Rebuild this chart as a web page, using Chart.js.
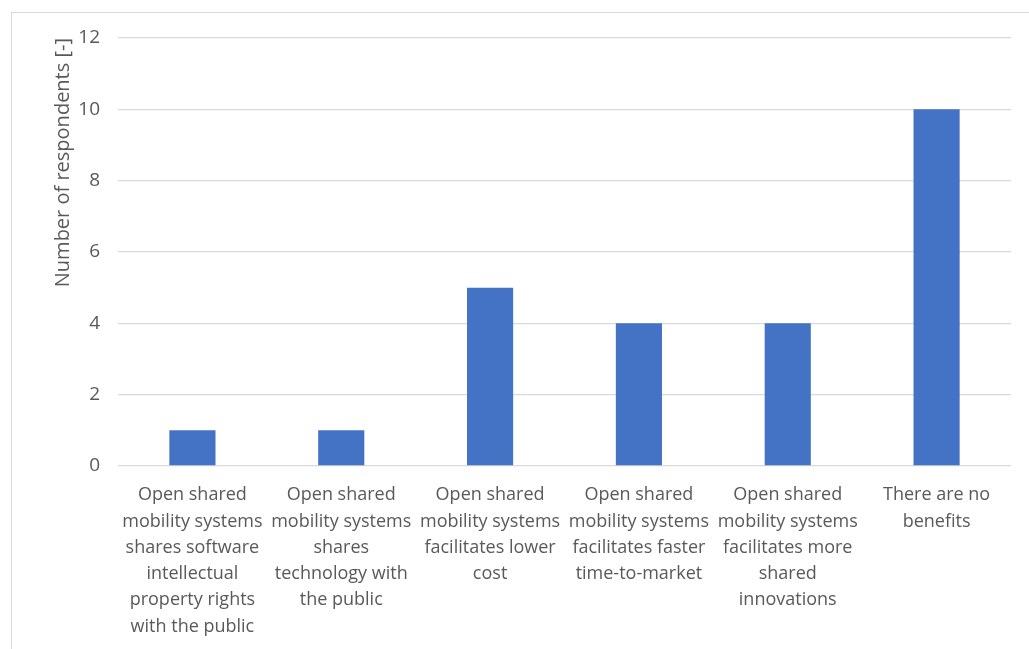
<!DOCTYPE html>
<html lang="en">
<head>
  <meta charset="UTF-8">
  <title>Benefits of open shared mobility systems</title>
  <script src="https://cdn.jsdelivr.net/npm/chart.js"></script>
  <style>
    html, body {
      margin: 0;
      padding: 0;
      background: #fff;
      overflow: hidden;
    }
    #frame {
      position: absolute;
      left: 11px;
      top: 12px;
      width: 1040px;
      height: 660px;
      border: 1px solid #d9d9d9;
      box-sizing: border-box;
    }
    #chart-container {
      position: absolute;
      left: 0;
      top: 0;
      width: 1029px;
      height: 649px;
    }
  </style>
</head>
<body>
  <div id="frame"></div>
  <div id="chart-container">
    <canvas id="myChart"></canvas>
  </div>

  <script>
    // Categories (wrapped the same way as the original labels)
    const categories = [
      ['Open shared', 'mobility systems', 'shares software', 'intellectual', 'property rights', 'with the public'],
      ['Open shared', 'mobility systems', 'shares', 'technology with', 'the public'],
      ['Open shared', 'mobility systems', 'facilitates lower', 'cost'],
      ['Open shared', 'mobility systems', 'facilitates faster', 'time-to-market'],
      ['Open shared', 'mobility systems', 'facilitates more', 'shared', 'innovations'],
      ['There are no', 'benefits']
    ];
    // Number of respondents per answer
    const respondents = [1, 1, 5, 4, 4, 10];
    // Y axis ticks
    const yMin = 0;
    const yMax = 12;
    const yStep = 2;

    const textColor = '#595959';
    const gridColor = '#d9d9d9';
    const fontFamily = '"Open Sans", "Noto Sans", sans-serif';

    const ctx = document.getElementById('myChart').getContext('2d');
    const myChart = new Chart(ctx, {
      type: 'bar',
      data: {
        labels: categories,
        datasets: [{
          label: 'Number of respondents',
          data: respondents,
          backgroundColor: '#4472c4',
          borderWidth: 0,
          categoryPercentage: 1.0,
          barPercentage: 0.31
        }]
      },
      options: {
        responsive: true,
        maintainAspectRatio: false,
        animation: false,
        layout: {
          padding: { top: 38, right: 18, bottom: 0, left: 0 }
        },
        plugins: {
          legend: { display: false },
          tooltip: { enabled: false }
        },
        scales: {
          x: {
            grid: { display: false, drawTicks: false },
            border: { display: false },
            ticks: {
              color: textColor,
              font: { family: fontFamily, size: 18, lineHeight: 1.46 },
              padding: 16,
              maxRotation: 0,
              minRotation: 0,
              autoSkip: false
            },
            afterFit: (scale) => { scale.height = 183; }
          },
          y: {
            min: yMin,
            max: yMax,
            grid: { color: gridColor, lineWidth: 1.3, drawTicks: false },
            border: { display: false },
            ticks: {
              stepSize: yStep,
              color: textColor,
              font: { family: fontFamily, size: 19 },
              padding: 18
            },
            title: {
              display: true,
              text: 'Number of respondents [-]',
              align: 'end',
              color: textColor,
              font: { family: fontFamily, size: 20 },
              padding: { top: 51, bottom: 0 }
            },
            afterFit: (scale) => { scale.width = 118; }
          }
        }
      }
    });
  </script>
</body>
</html>
